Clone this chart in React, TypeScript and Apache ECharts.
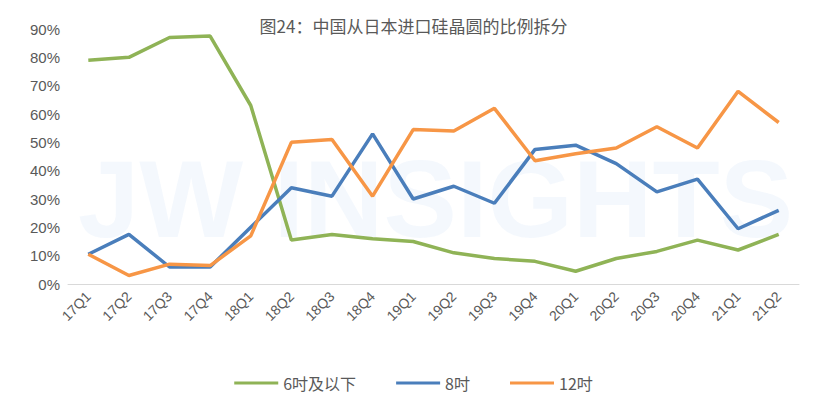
import React, { useEffect, useRef } from "react";
import * as echarts from "echarts";

const categories = ["17Q1","17Q2","17Q3","17Q4","18Q1","18Q2","18Q3","18Q4","19Q1","19Q2","19Q3","19Q4","20Q1","20Q2","20Q3","20Q4","21Q1","21Q2"];
const s6 = [79,80,87,87.5,63,15.5,17.5,16,15,11,9,8,4.5,9,11.5,15.5,12,17.5];
const s8 = [10.5,17.5,6,6,20,34,31,53,30,34.5,28.5,47.5,49,42.5,32.5,37,19.5,26];
const s12 = [10.5,3,7,6.5,17,50,51,31,54.5,54,62,43.5,46,48,55.5,48,68,57];

export default function App() {
  const ref = useRef<HTMLDivElement>(null);
  useEffect(() => {
    const chart = echarts.init(ref.current!, null, { renderer: "svg" });
    const font = "Microsoft YaHei, Noto Sans CJK SC, sans-serif";
    const line = (name: string, data: number[], color: string) => ({
      name, type: "line", data, symbol: "none", lineStyle: { width: 3.5, color }, itemStyle: { color },
    });
    chart.setOption({
      animation: false,
      title: { text: "图24：中国从日本进口硅晶圆的比例拆分", left: "center", top: 4, textStyle: { fontSize: 17, fontWeight: "normal", color: "#595959", fontFamily: font } },
      graphic: [{ type: "text", left: 70, top: 135, z: -1, silent: true, style: { text: "JW INSIGHTS", fontSize: 110, fontWeight: "bold", fill: "rgba(70,130,220,0.06)", fontFamily: "Arial" } }],
      legend: { bottom: 12, itemWidth: 44, itemHeight: 3, itemGap: 40, icon: "rect", textStyle: { fontSize: 16, color: "#595959", fontFamily: font } },
      grid: { left: 60, right: 20, top: 21, bottom: 124, containLabel: false },
      xAxis: { type: "category", data: categories, boundaryGap: true,
        axisLine: { lineStyle: { color: "#d9d9d9" } }, axisTick: { show: false },
        axisLabel: { rotate: 45, fontSize: 14, color: "#595959", margin: 10 } },
      yAxis: { type: "value", min: 0, max: 90, interval: 10,
        axisLabel: { formatter: "{value}%", fontSize: 15, color: "#595959" },
        axisLine: { show: false }, axisTick: { show: false }, splitLine: { show: false } },
      series: [line("6吋及以下", s6, "#8fb356"), line("8吋", s8, "#4a7ebb"), line("12吋", s12, "#f79646")],
    });
    return () => chart.dispose();
  }, []);
  return <div ref={ref} style={{ width: 811, height: 400 }} />;
}
